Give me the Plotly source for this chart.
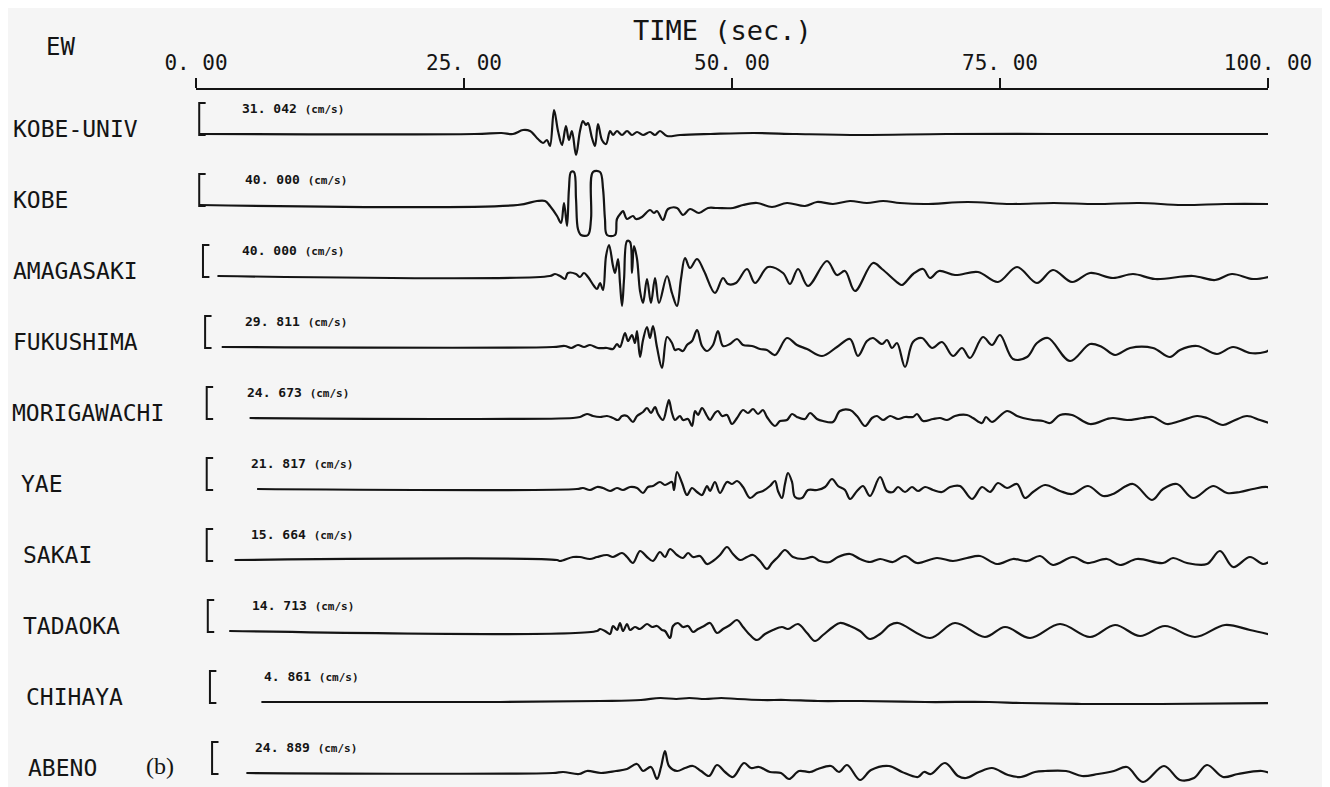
import plotly.graph_objects as go

# EW velocity records, (time in s, amplitude in chart units; 31 = full-scale bar)
stations = ["KOBE-UNIV", "KOBE", "AMAGASAKI", "FUKUSHIMA", "MORIGAWACHI",
            "YAE", "SAKAI", "TADAOKA", "CHIHAYA", "ABENO"]
peak_text = ["31. 042", "40. 000", "40. 000", "29. 811", "24. 673",
             "21. 817", "15. 664", "14. 713", "4. 861", "24. 889"]
bar_time = [0.3, 0.3, 0.65, 0.85, 1.0, 1.0, 1.0, 1.1, 1.3, 1.5]
label_time = [4.1, 4.4, 4.1, 4.4, 4.6, 4.9, 4.9, 5.0, 6.2, 5.3]
time_ticks = [0, 25, 50, 75, 100]
time_tick_text = ["0. 00", "25. 00", "50. 00", "75. 00", "100. 00"]

kobe_univ = [(0.3, 0), (26.0, 0), (28.5, 1), (29.57, 0), (30.5, 4), (31.16, 3), (31.9, -5),
             (32.37, -9), (32.74, -6), (33.02, -12), (33.4, 24), (33.77, 3), (34.14, -11),
             (34.51, 8), (34.79, -6), (35.07, 3), (35.45, -21), (35.82, 3), (36.1, 13),
             (36.38, 9), (36.57, 11), (36.94, -4), (37.22, -12), (37.5, 10), (37.87, -6),
             (38.25, -10), (38.62, 3), (38.9, -1), (39.27, 3), (39.74, -1), (40.21, 3),
             (40.67, -1), (41.14, 2), (41.7, -1), (42.35, 2), (42.82, -1), (43.28, 3),
             (43.94, -2), (45.15, -1), (48.0, 0), (52.0, 1), (56.0, 0), (62.0, -1),
             (70.0, 0), (80.0, 0), (90.0, 0), (100.4, 0)]

kobe = [(0.3, 0), (30.0, 0), (31.81, 4), (32.56, 4), (33.02, -1), (33.68, -11), (34.05, -18),
        (34.33, 2), (34.61, -21), (34.79, 16), (34.98, 33), (35.26, 33), (35.45, 6),
        (35.63, -24), (35.91, -30), (36.57, -30), (36.85, -14), (37.03, 33), (37.69, 33),
        (37.97, 16), (38.15, -14), (38.34, -30), (39.09, -30), (39.27, -14), (39.65, -8),
        (39.83, -6), (40.21, -14), (40.76, -11), (41.04, -14), (41.6, -12), (42.35, -5),
        (42.72, -8), (43.0, -6), (43.56, -15), (44.03, -4), (44.87, -3), (45.43, -10),
        (46.08, -4), (46.92, -8), (47.76, -3), (48.6, -3), (50.09, -3), (51.03, 0),
        (52.33, 2), (53.73, -2), (55.13, 2), (56.81, -1), (57.93, 3), (59.42, 1),
        (61.01, 4), (62.59, 2), (64.09, 4), (65.67, 2), (68.0, 1), (72.0, 3), (76.0, 1),
        (80.0, 2), (84.0, 1), (88.0, 2), (92.0, 0), (96.0, 1), (100.4, 1)]

amagasaki = [(2.0, 0), (33.0, 0), (33.49, 2), (33.96, 0), (34.42, -3), (34.7, 3), (35.45, 2),
             (35.82, -1), (36.19, 3), (36.57, -1), (37.13, -10), (37.41, -13), (37.69, -7),
             (37.97, -14), (38.25, 20), (38.53, 31), (38.9, 10), (39.09, 3), (39.37, 17),
             (39.55, -7), (39.74, -30), (39.93, -3), (40.21, 35), (40.49, 34), (40.67, 3),
             (40.86, 30), (41.14, 17), (41.42, -15), (41.7, -27), (42.07, -3), (42.44, -27),
             (42.82, -2), (43.19, -27), (43.94, 0), (44.4, -17), (44.87, -30), (45.24, -3),
             (45.62, 18), (46.08, 8), (46.74, 17), (47.39, 5), (48.41, -17), (49.16, -2),
             (49.63, -8), (50.37, -7), (51.4, 7), (52.15, -7), (53.36, 9), (54.76, 3),
             (55.41, -8), (56.16, 7), (57.09, -10), (58.86, 15), (59.79, 1), (60.54, 5),
             (61.47, -15), (63.15, 13), (63.99, 7), (65.49, -7), (65.86, -9), (66.9, 2),
             (67.82, 7), (68.47, -2), (69.31, 5), (70.8, 1), (72.95, 4), (74.81, -6),
             (76.59, 9), (78.45, -7), (79.94, 6), (81.72, -6), (83.4, 3), (85.54, -2),
             (87.41, 2), (89.46, -3), (93.0, 0), (95.06, -4), (96.64, 2), (98.6, -3),
             (100.4, 0)]

fukushima = [(2.4, 0), (33.3, 0), (34.42, 1), (35.0, -1), (35.63, 2), (36.2, 0), (36.75, 2),
             (37.5, -1), (38.34, -1), (38.9, -2), (39.27, 3), (39.55, 0), (40.02, 14),
             (40.3, 6), (40.67, 12), (40.95, 4), (41.14, 16), (41.42, -10), (41.7, 7),
             (42.07, 20), (42.35, 9), (42.63, 21), (43.0, 0), (43.47, -21), (43.94, 10),
             (44.4, 4), (44.68, -3), (45.0, -2), (45.43, -4), (45.8, 2), (46.27, 6),
             (46.74, 17), (47.2, 1), (47.67, -4), (48.23, 2), (48.69, 16), (49.16, 1),
             (49.81, 3), (50.47, 8), (51.03, 2), (51.87, 1), (52.61, -2), (53.26, -3),
             (54.01, -8), (55.13, 9), (56.06, 2), (57.0, -2), (58.4, -9), (59.79, 0),
             (61.01, 8), (61.75, -9), (62.59, 6), (63.15, 9), (64.0, 3), (64.46, 7),
             (64.93, -1), (65.39, 4), (66.14, -20), (66.88, 5), (67.72, 9), (68.66, -1),
             (69.59, 5), (70.62, -9), (71.46, -1), (72.2, -11), (73.41, 10), (74.25, 2),
             (75.0, 12), (76.21, -12), (77.52, -10), (78.45, 4), (79.48, 9), (81.53, -14),
             (83.4, 3), (84.51, 0), (85.73, -8), (87.13, -1), (89.27, -1), (90.86, -10),
             (91.79, -3), (93.38, 1), (95.24, -7), (96.74, 0), (98.32, -6), (99.72, -5),
             (100.4, -1)]

morigawachi = [(5.0, 0), (35.17, 0), (35.82, 1), (36.47, 4), (37.03, 2), (37.69, 1),
               (38.34, 2), (38.9, 0), (39.37, -2), (39.74, 2), (40.21, 2), (40.76, -4),
               (41.14, 2), (41.7, 6), (42.07, 10), (42.44, 5), (42.82, 11), (43.1, 4),
               (43.56, -2), (43.94, 12), (44.12, 18), (44.4, 5), (44.68, -2), (45.15, 2),
               (45.43, -2), (45.9, -1), (46.27, -8), (46.55, 7), (46.83, 3), (47.2, 10),
               (47.67, 2), (47.95, -2), (48.41, 5), (48.69, 7), (49.07, 2), (49.53, 3),
               (50.0, -6), (50.47, 0), (51.03, 8), (51.49, 5), (51.96, 9), (52.43, 4),
               (52.89, 8), (53.26, 1), (54.01, -8), (54.48, -3), (55.13, -2), (55.6, 4),
               (56.06, 1), (56.81, -1), (57.28, 5), (57.93, -1), (58.49, -3), (59.42, -4),
               (60.07, 7), (61.01, 8), (61.66, 2), (62.41, -8), (63.06, 0), (63.53, 2),
               (64.09, -2), (64.74, 2), (65.49, -1), (66.14, 1), (66.88, 1), (67.26, 4),
               (67.82, -3), (68.75, -1), (69.4, 0), (70.06, -2), (70.8, 2), (71.92, 3),
               (72.48, 0), (73.32, -5), (73.69, 1), (74.25, -4), (75.65, 7), (76.59, 2),
               (77.15, 0), (78.08, -2), (79.01, -3), (79.66, -5), (80.6, 3), (81.72, 3),
               (83.4, -6), (84.98, -1), (85.54, 0), (86.85, -2), (88.34, 0), (89.27, 1),
               (90.58, -6), (91.79, -3), (93.38, 2), (94.31, 0), (95.8, -7), (96.74, -3),
               (98.04, 2), (99.25, -2), (100.4, -6)]

yae = [(5.7, 0), (35.54, 0), (36.1, 1), (36.75, -1), (37.41, 2), (37.97, 1), (38.62, -2),
       (39.27, 1), (39.83, -1), (40.49, 2), (41.14, 1), (41.7, -4), (42.16, 2), (42.63, 3),
       (43.28, 7), (43.75, 4), (44.4, 7), (44.59, -1), (44.87, 17), (45.34, 6), (45.8, -6),
       (46.27, 1), (46.74, -3), (47.2, -6), (47.67, 3), (47.95, -2), (48.41, 7), (48.88, -4),
       (49.53, 7), (50.0, 5), (50.47, 8), (51.03, 2), (51.68, -9), (52.33, -4), (52.89, -2),
       (53.54, 3), (54.01, 8), (54.29, -2), (54.66, -9), (54.94, 5), (55.22, 16), (55.6, 7),
       (55.88, -8), (56.53, -9), (57.09, -1), (57.93, -1), (58.68, 2), (59.33, 10),
       (59.89, 3), (60.54, -1), (61.01, -10), (61.66, -2), (62.22, 3), (62.87, -7),
       (63.81, 12), (64.46, -2), (65.02, -3), (65.49, 2), (66.14, -3), (66.79, 2),
       (67.35, -2), (68.0, 2), (68.75, -1), (69.59, -3), (70.34, 2), (71.27, 3),
       (72.39, -10), (73.32, 2), (74.07, -3), (74.81, 6), (75.65, 1), (76.59, 5),
       (77.33, -9), (78.08, -3), (79.2, 4), (80.6, -2), (81.72, -5), (83.21, 3), (84.61, -7),
       (85.54, -5), (87.41, 5), (89.18, -11), (90.21, 0), (91.51, 5), (93.0, -9), (94.87, 3),
       (96.18, -4), (97.39, -3), (98.6, 0), (99.91, 2), (100.4, -1)]

sakai = [(3.6, 0), (33.68, 0), (33.96, -1), (35.17, 3), (35.82, 3), (36.75, 1), (37.41, 3),
         (38.34, 5), (38.9, 3), (39.74, 7), (40.21, 3), (40.76, -3), (41.42, 9), (42.07, 3),
         (42.63, -1), (43.28, 8), (43.75, 3), (44.22, 11), (44.87, 5), (45.43, 2), (45.9, 7),
         (46.36, 3), (47.01, 4), (47.67, -4), (48.23, -1), (48.88, 5), (49.53, 13),
         (50.09, 6), (50.75, 0), (51.4, 3), (51.96, 5), (52.61, -1), (53.26, -9), (53.73, -3),
         (54.29, 3), (54.94, 10), (55.69, 3), (56.62, 1), (57.56, 3), (58.21, -1), (59.14, -2),
         (59.89, 3), (61.01, 6), (61.94, 1), (62.87, -2), (63.81, 1), (65.02, -2), (66.14, 4),
         (67.26, -3), (69.12, 2), (70.62, -1), (71.92, 2), (73.13, 4), (74.72, -4),
         (76.21, 1), (77.52, -1), (78.73, 4), (79.94, -5), (81.81, 3), (83.12, -3),
         (84.98, 1), (86.19, -5), (87.78, 1), (90.21, -3), (91.14, 2), (92.44, -3),
         (94.31, -4), (95.52, 9), (96.74, -7), (98.32, 3), (99.53, -4), (100.4, 0)]

tadaoka = [(3.1, 0), (37.41, 0), (37.69, 2), (38.15, 0), (38.62, -3), (38.9, 5), (39.27, 1),
           (39.55, 8), (39.83, 0), (40.21, 7), (40.49, 1), (40.95, 4), (41.42, 2), (42.07, 7),
           (42.54, 4), (43.0, 5), (43.47, 1), (43.75, 0), (44.22, -7), (44.5, 5), (44.96, 8),
           (45.43, 4), (45.9, 5), (46.36, -1), (46.83, 2), (47.39, 5), (47.95, 8), (48.6, -2),
           (49.16, 2), (49.81, 6), (50.47, 11), (51.03, 4), (51.68, -4), (52.33, -9),
           (53.08, -3), (53.82, 1), (54.66, 4), (55.22, 2), (56.16, 7), (57.0, -2),
           (57.74, -10), (58.49, -4), (59.42, 4), (60.07, 8), (61.01, 5), (61.94, 0),
           (62.87, -8), (63.81, -3), (64.74, 6), (65.49, 8), (68.47, -7), (70.8, 8),
           (73.6, -6), (75.47, 4), (77.8, -7), (80.6, 7), (83.4, -6), (85.73, 6), (88.06, -5),
           (90.39, 5), (93.19, -6), (95.99, 6), (98.32, 1), (100.4, -4)]

chihaya = [(6.1, 0), (28.4, 0), (37.7, 1), (41.5, 2), (43.3, 4), (44.8, 3), (46.0, 4),
           (47.5, 3), (49.0, 4), (50.5, 3), (52.8, 2), (55.0, 2), (58.0, 1), (62.0, 1),
           (68.0, 0), (74.0, 0), (77.0, -1), (82.6, -2), (90.0, -2), (100.4, -1)]

abeno = [(4.7, 0), (33.3, 0), (34.24, 1), (35.73, -1), (36.47, 2), (37.78, 0), (39.18, 2),
         (40.21, 4), (41.14, 9), (41.7, 2), (42.44, 6), (43.0, -6), (43.38, 6), (43.75, 22),
         (44.12, 7), (44.87, 2), (45.62, 5), (46.36, 7), (47.11, 2), (47.85, -3), (48.6, 8),
         (49.35, 1), (50.09, -4), (51.12, 10), (51.77, 5), (52.52, 6), (53.54, 1), (54.57, 0),
         (55.32, -6), (56.25, 2), (57.28, 1), (58.02, 4), (59.24, 7), (59.98, 1), (60.73, 8),
         (61.94, -7), (62.97, 3), (64.65, 7), (65.86, 1), (67.35, -4), (67.91, 1), (68.56, -1),
         (69.87, 10), (71.08, -3), (71.83, -5), (73.04, 1), (74.25, 5), (75.75, -2),
         (76.96, -4), (78.26, 1), (79.2, 2), (81.16, 2), (82.65, -3), (84.14, -1), (85.63, 2),
         (86.85, 6), (88.34, -9), (90.3, 7), (91.79, -7), (93.1, -5), (94.31, 8), (95.8, -4),
         (97.2, -1), (99.44, 2), (100.4, -1)]

records = [kobe_univ, kobe, amagasaki, fukushima, morigawachi,
           yae, sakai, tadaoka, chihaya, abeno]

# page layout: the html body adds an 8px margin, so the figure is sized to fit inside it
PAD = 8
W, H = 1330 - 2 * PAD, 787 - PAD
ROW_GAP = 71          # distance between trace baselines
FULL_SCALE = 31       # height of the scale bar
TOP_BASE = 134 - PAD  # first baseline
AXIS_Y = 90 - PAD
X0, X100 = 196 - PAD, 1268 - PAD
name_left_px = [11, 11, 11, 11, 10, 19, 21, 21, 24, 26]
INK = "#141414"
MONO = "DejaVu Sans Mono"


def px_x(p):
    return (p - PAD) / W


def px_y(p):
    return 1 - (p - PAD) / H


fig = go.Figure()

for i, rec in enumerate(records):
    off = -ROW_GAP * i
    t = [p[0] for p in rec]
    y = [off + p[1] for p in rec]
    fig.add_trace(go.Scatter(x=t, y=y, mode="lines",
                             line=dict(color=INK, width=2.2, shape="spline", smoothing=1.0),
                             hoverinfo="skip"))
    b = bar_time[i]
    fig.add_trace(go.Scatter(x=[b + 0.6, b, b, b + 0.6],
                             y=[off + FULL_SCALE, off + FULL_SCALE, off - 1, off - 1],
                             mode="lines", line=dict(color=INK, width=2), hoverinfo="skip"))
    fig.add_annotation(x=px_x(name_left_px[i]), xref="paper", y=off + 5, yref="y",
                       text=stations[i], showarrow=False, xanchor="left", yanchor="middle",
                       font=dict(family=MONO, size=23, color=INK))
    fig.add_annotation(x=label_time[i], xref="x", y=off + 26, yref="y",
                       text=f"<b>{peak_text[i]} <span style='font-size:11px'>(cm/s)</span></b>",
                       showarrow=False, xanchor="left", yanchor="middle",
                       font=dict(family=MONO, size=13, color=INK))

fig.add_annotation(x=px_x(722), y=px_y(30), xref="paper", yref="paper", text="TIME (sec.)",
                   showarrow=False, xanchor="center", yanchor="middle",
                   font=dict(family=MONO, size=27, color=INK))
fig.add_annotation(x=px_x(60), y=px_y(47), xref="paper", yref="paper", text="EW",
                   showarrow=False, xanchor="center", yanchor="middle",
                   font=dict(family=MONO, size=24, color=INK))
fig.add_annotation(x=px_x(160), y=px_y(766), xref="paper", yref="paper", text="(b)",
                   showarrow=False, xanchor="center", yanchor="middle",
                   font=dict(family="Liberation Serif", size=24, color=INK))

fig.update_layout(
    width=W, height=H, autosize=False,
    margin=dict(l=0, r=0, t=0, b=0, pad=0, autoexpand=False),
    paper_bgcolor="#f5f5f5", plot_bgcolor="#f5f5f5", showlegend=False,
    xaxis=dict(domain=[X0 / W, X100 / W], range=[0, 100], side="top", automargin=False,
               showline=True, linecolor=INK, linewidth=2, ticks="outside", ticklen=10,
               tickwidth=2, tickcolor=INK, tickvals=time_ticks, ticktext=time_tick_text,
               tickfont=dict(family=MONO, size=21, color=INK), ticklabelstandoff=0,
               showgrid=False, zeroline=False, fixedrange=True),
    yaxis=dict(domain=[0, 1 - AXIS_Y / H], range=[-(H - TOP_BASE), TOP_BASE - AXIS_Y],
               visible=False, automargin=False, fixedrange=True),
)

fig.write_html("out.html")
